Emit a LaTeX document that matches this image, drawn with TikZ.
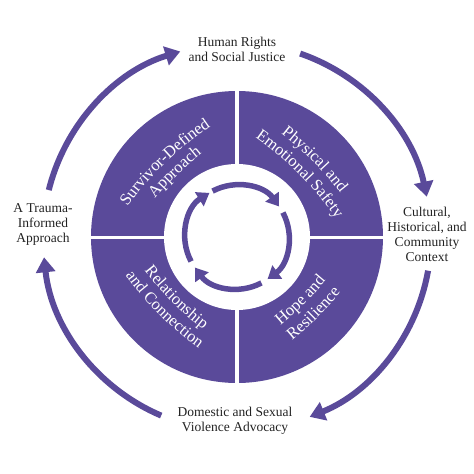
\documentclass[tikz,border=0pt]{standalone}
\usepackage{fontspec}
\setmainfont{Liberation Serif}
\usetikzlibrary{arrows.meta, calc, decorations.text}
\definecolor{Violet}{HTML}{5A4A9A}
\definecolor{Ink}   {HTML}{222222}
\newcommand{\secfont}{\fontsize{16.5}{18}\selectfont}
\tikzset{
  cyclelabel/.style={align=center, text=Ink, inner sep=1pt,
                     font=\fontsize{13.5}{15}\selectfont},
  outerarrow/.style={Violet, line width=6pt, -{Triangle[width=19pt,length=15pt]}},
  innerarrow/.style={Violet, line width=5.5pt, -{Triangle[width=16pt,length=12pt]}},
  sectext/.style={decorate, decoration={text along path, text align=center,
                  text color=white, text={|\secfont|#1}}}
}

\begin{document}
\begin{tikzpicture}[x=1pt, y=1pt]
  \useasboundingbox (-237,-237) rectangle (237,237);
  \coordinate (c) at (0,0);

  % disc, cut in four
  \fill[Violet] (c) circle[radius=146];
  \fill[white] (c) circle[radius=73];
  \draw[white, line width=3pt] (-147,0) -- (147,0) (0,-147) -- (0,147);

  % small cycle in the middle
  \draw[innerarrow] (118:52) arc[start angle=118, end angle=36, radius=52];
  \draw[innerarrow] (28:52) arc[start angle=28, end angle=-54, radius=52];
  \draw[innerarrow] (-62:52) arc[start angle=-62, end angle=-144, radius=52];
  \draw[innerarrow] (208:52) arc[start angle=208, end angle=122, radius=52];

  % quadrant texts
  \path[sectext=Survivor-Defined] ($(134:-227)+(149:330)$) arc[start angle=149, end angle=119, radius=330];
  \path[sectext=Approach] ($(134:-244)+(149:330)$) arc[start angle=149, end angle=119, radius=330];
  \path[sectext=Physical and] ($(45:-223)+(60:330)$) arc[start angle=60, end angle=30, radius=330];
  \path[sectext=Emotional Safety] ($(45:-242)+(60:330)$) arc[start angle=60, end angle=30, radius=330];
  \path[sectext=Relationship] ($(225:-238)+(210:330)$) arc[start angle=210, end angle=240, radius=330];
  \path[sectext=and Connection] ($(225:-220)+(210:330)$) arc[start angle=210, end angle=240, radius=330];
  \path[sectext=Hope and] ($(-45:-235)+(-60:330)$) arc[start angle=-60, end angle=-30, radius=330];
  \path[sectext=Resilience] ($(-45:-216)+(-60:330)$) arc[start angle=-60, end angle=-30, radius=330];

  % outer labels
  \node[cyclelabel] (hr)  at (0,188)   {Human Rights\\and Social Justice};
  \node[cyclelabel] (cul) at (190,3)   {Cultural,\\Historical, and\\Community\\Context};
  \node[cyclelabel] (dsv) at (-2,-184) {Domestic and Sexual\\Violence Advocacy};
  \node[cyclelabel] (tia) at (-194,13) {A Trauma-\\Informed\\Approach};

  % outer cycle
  \coordinate (tia-out) at (166:194);
  \coordinate (hr-out)  at (71:194);
  \coordinate (cul-out) at (-10:194);
  \coordinate (dsv-out) at (-113:194);
  \draw[outerarrow] (tia-out) arc[start angle=166, end angle=107, radius=194];
  \draw[outerarrow] (hr-out)  arc[start angle=71,  end angle=12,  radius=194];
  \draw[outerarrow] (cul-out) arc[start angle=-10, end angle=-68, radius=194];
  \draw[outerarrow] (dsv-out) arc[start angle=-113, end angle=-174, radius=194];
\end{tikzpicture}
\end{document}
